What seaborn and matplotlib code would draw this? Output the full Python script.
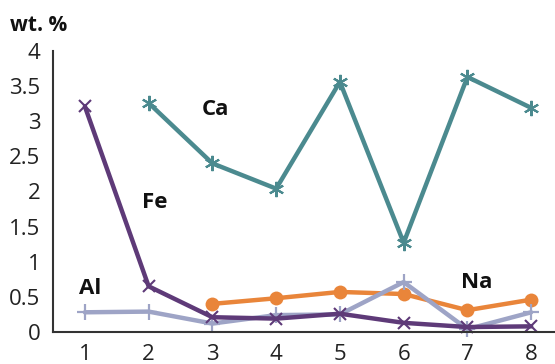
import matplotlib
matplotlib.use('Agg')
import matplotlib.pyplot as plt
import seaborn as sns
import numpy as np
import pandas as pd

# du lieu doc tu hinh
samples = [1, 2, 3, 4, 5, 6, 7, 8]
fe = [3.21, 0.65, 0.21, 0.19, 0.26, 0.13, 0.07, 0.08]
ca = [np.nan, 3.26, 2.40, 2.04, 3.56, 1.27, 3.63, 3.19]
na = [np.nan, np.nan, 0.40, 0.48, 0.57, 0.54, 0.31, 0.46]
al = [0.28, 0.29, 0.12, 0.24, 0.25, 0.71, 0.04, 0.28]

sns.set_style('white')
plt.rcParams['font.family'] = ['Open Sans', 'DejaVu Sans']

df = pd.DataFrame({'sample': samples, 'Fe': fe, 'Ca': ca, 'Na': na, 'Al': al})

fig = plt.figure(figsize=(5.55, 3.64), dpi=100)
ax = fig.add_axes([0.0955, 0.088, 0.919, 0.772])

styles = {
    'Ca': dict(color='#4b8a8f', marker=(6, 2, 0), ms=11, mew=1.5),
    'Na': dict(color='#e9853a', marker='o', ms=10, mew=0),
    'Al': dict(color='#9ea4c6', marker='+', ms=12, mew=1.6),
    'Fe': dict(color='#5e3a78', marker='x', ms=9, mew=1.5),
}
for name in ['Ca', 'Na', 'Al', 'Fe']:
    st = styles[name]
    sub = df[['sample', name]].dropna()
    sns.lineplot(data=sub, x='sample', y=name, ax=ax, color=st['color'], lw=3.2,
                 marker=st['marker'], markersize=st['ms'], markeredgewidth=st['mew'],
                 markeredgecolor=st['color'], clip_on=False)

ax.set_xlim(0.5, 8.5)
ax.set_ylim(0, 4)
ax.set_yticks(np.arange(0, 4.01, 0.5))
ax.set_yticklabels(['0', '0.5', '1', '1.5', '2', '2.5', '3', '3.5', '4'])
ax.set_xticks(samples)
ax.set_xticks(np.arange(0.5, 8.6, 1), minor=True)
ax.tick_params(axis='x', which='major', length=0, labelsize=16, pad=9, colors='#222222')
ax.tick_params(axis='x', which='minor', length=4, width=1.5, color='#333333')
ax.tick_params(axis='y', length=4, width=1.5, labelsize=16, pad=5, color='#333333', labelcolor='#222222')
ax.set_xlabel('')
ax.set_ylabel('')
sns.despine(ax=ax)
for s in ['left', 'bottom']:
    ax.spines[s].set_color('#333333')
    ax.spines[s].set_linewidth(1.5)

fig.text(0.018, 0.915, 'wt. %', fontsize=15, fontweight='bold', color='#111111')
for txt, x, y in [('Ca', 3.04, 3.16), ('Fe', 2.1, 1.84), ('Al', 1.08, 0.62), ('Na', 7.15, 0.7)]:
    ax.text(x, y, txt, fontsize=16, fontweight='bold', ha='center', va='center', color='#111111')

fig.savefig('out.png', dpi=100)
